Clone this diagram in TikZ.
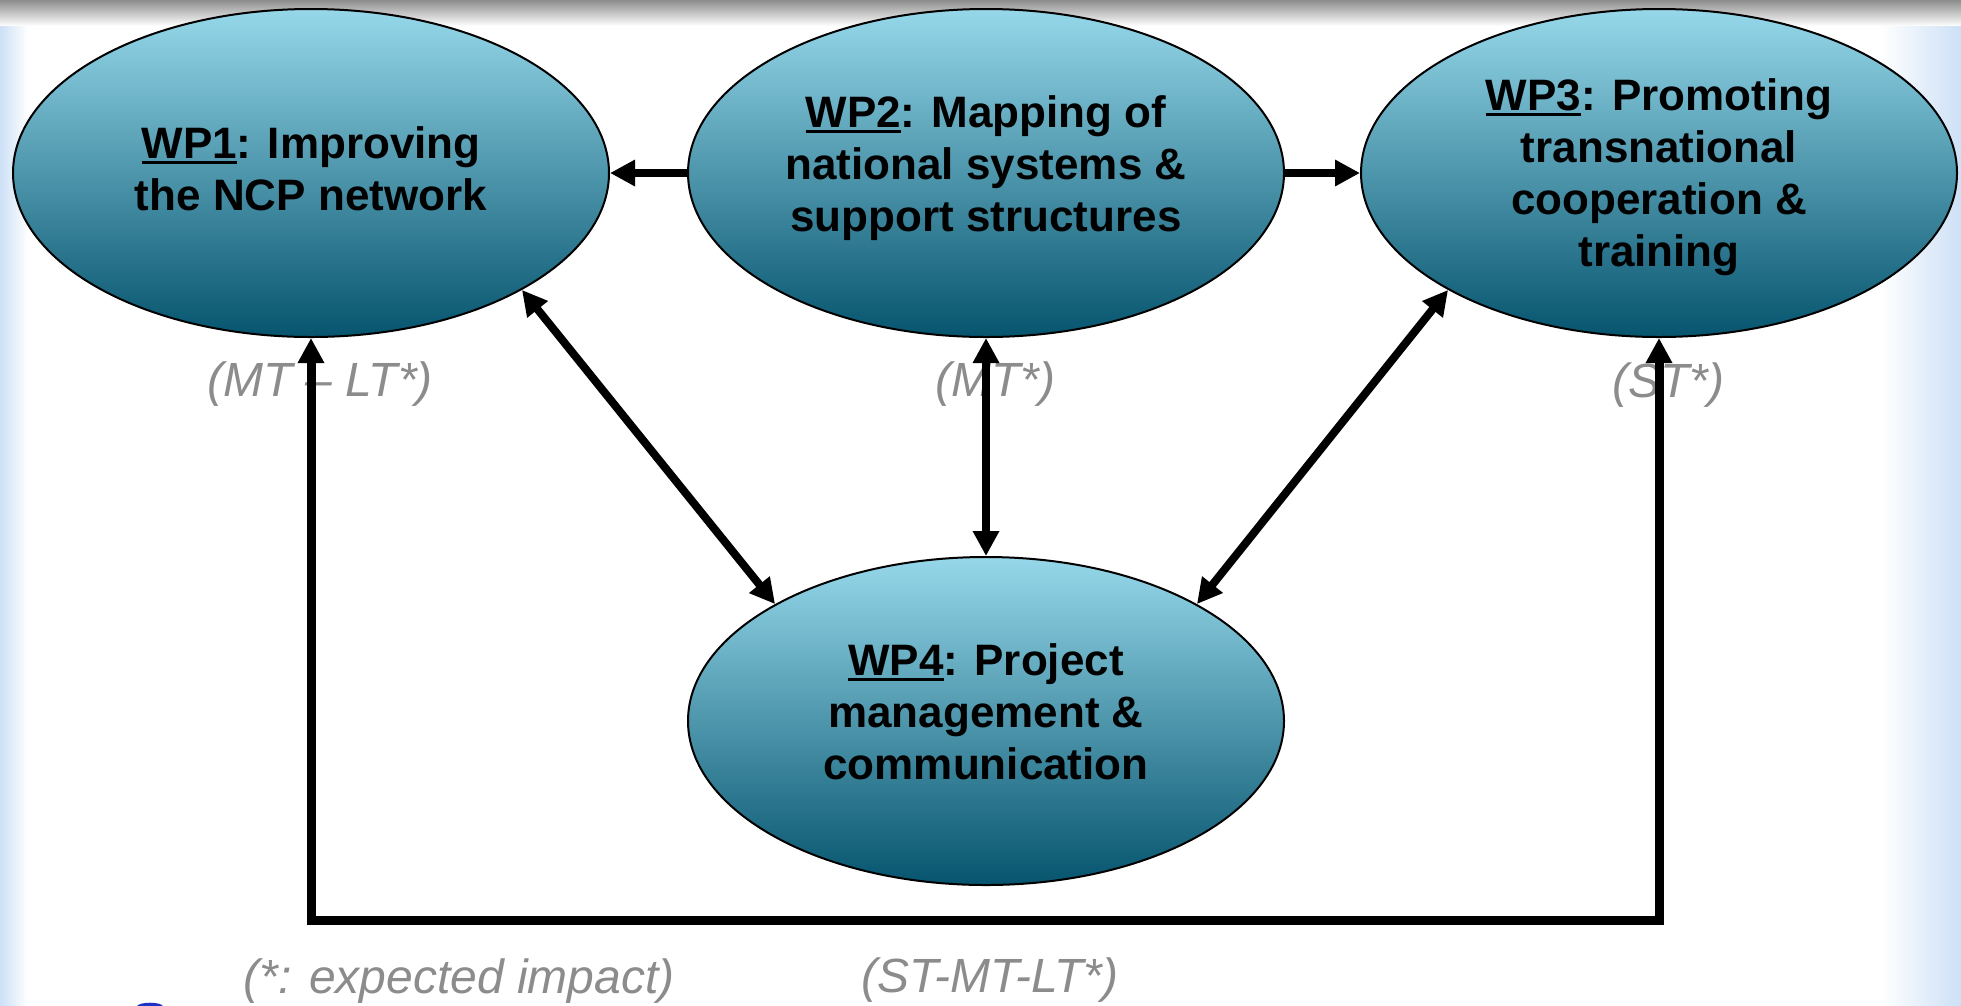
\documentclass[tikz,border=0pt]{standalone}
\usepackage{fontspec}
\setmainfont{Liberation Sans}
\usetikzlibrary{arrows.meta,shapes.geometric}
\definecolor{wpTop}{RGB}{150,216,234}
\definecolor{wpBot}{RGB}{6,84,110}
\definecolor{lblGray}{RGB}{140,140,140}
\definecolor{edgeBlue}{RGB}{205,224,246}
\definecolor{logoBlue}{RGB}{30,50,200}
\newcommand\wpul[1]{\setbox0\hbox{#1}\rlap{\rule[-6pt]{\wd0}{3pt}}\box0}
\begin{document}
\begin{tikzpicture}[x=1pt,y=-1pt,
  >={Triangle[length=25pt,width=25pt]},
  wp/.style={ellipse, draw=black, line width=2pt, top color=wpTop, bottom color=wpBot,
    minimum width=596pt, minimum height=328pt, inner sep=0pt},
  wptext/.style={anchor=north, align=center, inner sep=0pt,
    font=\fontsize{44}{52}\selectfont\bfseries},
  lbl/.style={inner sep=0pt, text=lblGray, font=\fontsize{48}{56}\selectfont\itshape},
  conn/.style={line width=8pt, line join=miter}
]
\useasboundingbox (0,0) rectangle (1961,1005);
\fill[white] (0,0) rectangle (1961,1005);
% frame decoration
\shade[top color=black!45, bottom color=white] (0,0) rectangle (1961,26);
\shade[left color=edgeBlue, right color=white] (0,26) rectangle (28,1005);
\shade[left color=white, right color=edgeBlue] (1880,26) rectangle (1961,1005);
\fill[logoBlue] (150,1006.5) ellipse (13 and 3.8);

% work packages
\node[wp] (WP1) at (311,173) {};
\node[wp] (WP2) at (986,173) {};
\node[wp] (WP3) at (1659,173) {};
\node[wp] (WP4) at (986,721) {};

\node[wptext] (t1) at (311,126) {\wpul{WP1}: Improving\\the NCP network};
\node[wptext] (t2) at (986,95) {\wpul{WP2}: Mapping of\\national systems \&\\support structures};
\node[wptext] (t3) at (1659,78) {\wpul{WP3}: Promoting\\transnational\\cooperation \&\\training};
\node[wptext] (t4) at (986,643) {\wpul{WP4}: Project\\management \&\\communication};

% impact labels
\node[lbl] (l1) at (320,384) {(MT – LT*)};
\node[lbl] (l2) at (995,384) {(MT*)};
\node[lbl] (l3) at (1668,385) {(ST*)};
\node[lbl] (l4) at (459,981) {(*: expected impact)};
\node[lbl] (l5) at (990,980) {(ST-MT-LT*)};

% connectors
\draw[conn,->] (WP2) -- (WP1);
\draw[conn,->] (WP2) -- (WP3);
\draw[conn,<->] (WP2.south) -- (WP4.north);
\draw[conn,<->] (WP1.-29) -- (WP4.151);
\draw[conn,<->] (WP3.209) -- (WP4.29);
\coordinate (bl) at (311,920);
\coordinate (br) at (1659,920);
\draw[conn,line width=9pt,<->] (WP1.south) -- (bl) -- (br) -- (WP3.south);
\end{tikzpicture}
\end{document}
